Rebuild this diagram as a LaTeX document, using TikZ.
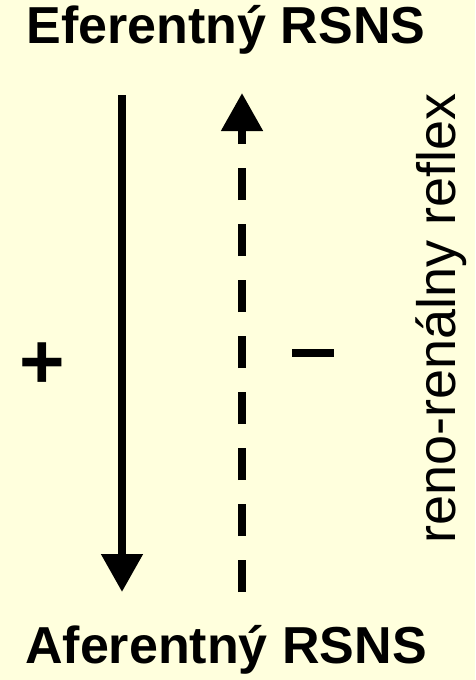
\documentclass[tikz,border=0pt]{standalone}
\usepackage{fontspec}
\setmainfont{Liberation Sans}
\usetikzlibrary{arrows.meta}

\definecolor{paper}{RGB}{255,255,221}

\begin{document}
\begin{tikzpicture}[x=1pt,y=-1pt]

        \def\arrowwidth{8pt}

        \fill[paper] (0,0) rectangle (475,680);
        \useasboundingbox (0,0) rectangle (475,680);

        \node (eff) at (226,30) {\fontsize{52}{60}\selectfont\bfseries Eferentný RSNS};
        \node (aff) at (226,650) {\fontsize{52}{60}\selectfont\bfseries Aferentný RSNS};

        \coordinate (downtop) at (122,95);
        \coordinate (downbot) at (122,592);
        \coordinate (uptop) at (242,93);
        \coordinate (upbot) at (242,592);

        \draw[line width=\arrowwidth, -{Triangle[length=38pt,width=40pt]}] (downtop) -- (downbot);
        \draw[line width=\arrowwidth, dash pattern=on 32pt off 24pt, -{Triangle[length=38pt,width=40pt]}] (upbot) -- (uptop);

        \node (plus) at (42,366) {\fontsize{78}{80}\selectfont\bfseries +};
        \node[fill=black, minimum width=42pt, minimum height=8pt, inner sep=0pt] (minus) at (313,353) {};

        \node[rotate=90] (reflex) at (441,318) {\fontsize{54}{60}\selectfont reno-renálny reflex};

      \end{tikzpicture}
\end{document}
